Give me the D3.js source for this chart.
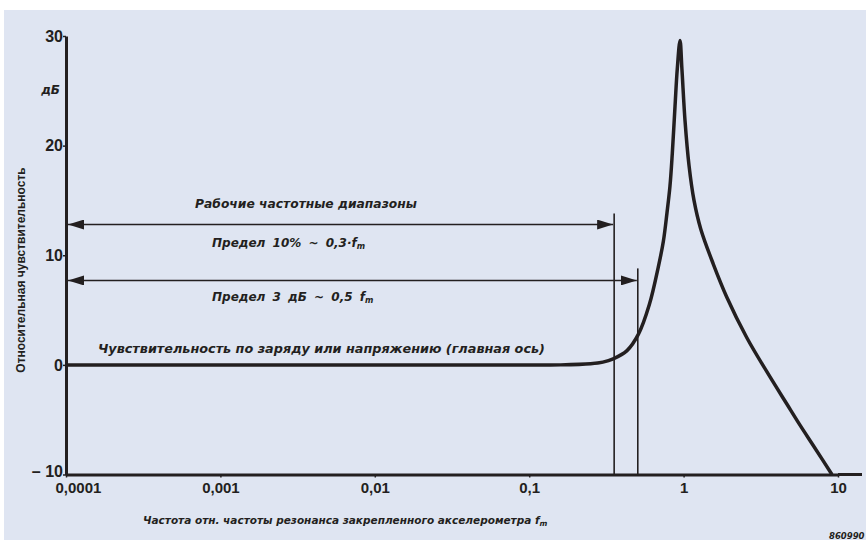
<!DOCTYPE html>
<html>
<head>
<meta charset="utf-8">
<script src="https://cdn.jsdelivr.net/npm/d3@7"></script>
<style>
  html, body { margin: 0; padding: 0; background: #ffffff; }
  text { fill: #231f20; }
  .tick-lbl { font-family: "Liberation Sans", Arial, sans-serif; font-weight: bold; }
  .ann { font-family: "DejaVu Sans", sans-serif; font-weight: bold; font-style: italic; }
  .ylab { font-family: "Liberation Sans", Arial, sans-serif; font-weight: bold; }
</style>
</head>
<body>
<svg id="chart" width="866" height="540"></svg>
<script>
// Относительная чувствительность акселерометра
// частота (отн. f_m) и чувствительность, дБ
const freq = [0.0001, 0.01, 0.1, 0.16, 0.25, 0.3, 0.35, 0.43, 0.51, 0.6, 0.685, 0.74, 0.781, 0.816, 0.845, 0.88, 0.91, 0.948,
              0.976, 1.021, 1.084, 1.168, 1.291, 1.557, 1.902, 2.563, 3.452, 4.653, 5.675, 7.1, 9.14];
const sens = [0, 0, 0, 0, 0.1, 0.25, 0.55, 1.3, 2.8, 5.5, 8.9, 11.3, 13.9, 16.3, 19.3, 23.6, 27.0, 29.6,
              26.9, 22.3, 18.2, 15.0, 12.4, 9.2, 6.2, 2.5, -0.6, -3.55, -5.5, -7.6, -10];

const xTicks = [0.0001, 0.001, 0.01, 0.1, 1, 10];
const xTickLabels = ["0,0001", "0,001", "0,01", "0,1", "1", "10"];
const yTicks = [-10, 0, 10, 20, 30];
const yTickLabels = ["– 10", "0", "10", "20", "30"];

// пределы рабочих диапазонов: частота, уровень стрелки, верх вертикали (дБ)
const limitFreq = [0.355, 0.505];
const limitArrow = [12.8, 7.7];
const limitTop = [13.8, 8.8];

const svg = d3.select("#chart");
const W = +svg.attr("width"), H = +svg.attr("height");

// фон
svg.append("rect").attr("x", 4).attr("y", 10).attr("width", W - 4).attr("height", H - 10)
   .attr("fill", "#dfe5f2");

const x = d3.scaleLog().domain([0.0001, 10]).range([66, 838]);
const y = d3.scaleLinear().domain([-10, 30]).range([474.5, 36]);

const ink = "#231f20";

// ось Y
const yAxis = svg.append("g")
  .attr("transform", `translate(${x(0.0001)},0)`)
  .call(d3.axisLeft(y).tickValues(yTicks).tickSize(3).tickSizeOuter(0)
          .tickFormat((d, i) => yTickLabels[i]));
yAxis.select(".domain").attr("stroke", ink).attr("stroke-width", 3);
yAxis.selectAll(".tick line").attr("stroke", ink).attr("stroke-width", 1.5);
yAxis.selectAll(".tick text").attr("class", "tick-lbl").attr("font-size", 16).attr("x", -3)
  .attr("dy", d => d === -10 ? "0.1em" : "0.32em");

// ось X
const xAxis = svg.append("g")
  .attr("transform", `translate(0,${y(-10)})`)
  .call(d3.axisBottom(x).tickValues(xTicks).tickSize(3).tickSizeOuter(0)
          .tickFormat((d, i) => xTickLabels[i]));
xAxis.select(".domain").attr("stroke", ink).attr("stroke-width", 3);
xAxis.selectAll(".tick line").attr("stroke", ink).attr("stroke-width", 1.5);
xAxis.selectAll(".tick text").attr("class", "tick-lbl").attr("font-size", 15).attr("y", 8);
xAxis.selectAll(".tick text").filter(d => d === 0.0001)
  .attr("text-anchor", "start").attr("x", -11);
// продолжение оси за 10
xAxis.append("line").attr("x1", x(10)).attr("x2", W - 4).attr("stroke", ink).attr("stroke-width", 3);

// подписи осей
svg.append("text").attr("class", "ylab").attr("font-size", 12)
  .attr("transform", `translate(${x(0.0001) - 45},270) rotate(-90)`)
  .attr("text-anchor", "middle").attr("dominant-baseline", "central")
  .text("Относительная чувствительность");

svg.append("text").attr("class", "ann").attr("font-size", 12)
  .attr("x", x(0.0001) - 6).attr("y", 90).attr("text-anchor", "end").attr("dominant-baseline", "central")
  .text("дБ");

const xt = svg.append("text").attr("class", "ann").attr("font-size", 10.5)
  .attr("x", 143).attr("y", 520).attr("dominant-baseline", "central");
xt.append("tspan").text("Частота отн. частоты резонанса закрепленного акселерометра f");
xt.append("tspan").attr("font-size", 7.5).attr("dy", 3).text("m");

svg.append("text").attr("class", "ann").attr("font-size", 8.5)
  .attr("x", 829).attr("y", 536).attr("dominant-baseline", "central").text("860990");

// стрелки рабочих диапазонов
const defs = svg.append("defs");
defs.append("marker").attr("id", "arr").attr("viewBox", "0 0 16 10")
  .attr("refX", 16).attr("refY", 5).attr("markerWidth", 16).attr("markerHeight", 10)
  .attr("markerUnits", "userSpaceOnUse").attr("orient", "auto-start-reverse")
  .append("path").attr("d", "M0,0 L16,5 L0,10 Z").attr("fill", ink);

svg.selectAll(".limit-v").data(limitFreq).enter().append("line")
  .attr("class", "limit-v")
  .attr("x1", d => x(d)).attr("x2", d => x(d))
  .attr("y1", (d, i) => y(limitTop[i])).attr("y2", y(-10))
  .attr("stroke", ink).attr("stroke-width", 1.6);

svg.selectAll(".limit-a").data(limitFreq).enter().append("line")
  .attr("class", "limit-a")
  .attr("x1", x(0.0001) + 2).attr("x2", d => x(d) - 1)
  .attr("y1", (d, i) => y(limitArrow[i])).attr("y2", (d, i) => y(limitArrow[i]))
  .attr("stroke", ink).attr("stroke-width", 1.6)
  .attr("marker-start", "url(#arr)").attr("marker-end", "url(#arr)");

// надписи
svg.append("text").attr("class", "ann").attr("font-size", 12.3)
  .attr("x", 195).attr("y", 204).attr("dominant-baseline", "central")
  .text("Рабочие частотные диапазоны");

const t1 = svg.append("text").attr("class", "ann").attr("font-size", 12).attr("word-spacing", 3)
  .attr("x", 212).attr("y", 243).attr("dominant-baseline", "central");
t1.append("tspan").text("Предел 10% ~ 0,3·f");
t1.append("tspan").attr("font-size", 8).attr("dy", 3).text("m");

const t2 = svg.append("text").attr("class", "ann").attr("font-size", 12).attr("word-spacing", 3)
  .attr("x", 212).attr("y", 297).attr("dominant-baseline", "central");
t2.append("tspan").text("Предел 3 дБ ~ 0,5 f");
t2.append("tspan").attr("font-size", 8).attr("dy", 3).text("m");

svg.append("text").attr("class", "ann").attr("font-size", 12.8)
  .attr("x", 98).attr("y", 348).attr("dominant-baseline", "central")
  .text("Чувствительность по заряду или напряжению (главная ось)");

// кривая чувствительности
const pts = freq.map((f, i) => [f, sens[i]]);
const line = d3.line().x(d => x(d[0])).y(d => y(d[1])).curve(d3.curveCatmullRom.alpha(0.5));
svg.append("path").datum(pts)
  .attr("d", line)
  .attr("fill", "none").attr("stroke", ink).attr("stroke-width", 3.5)
  .attr("stroke-linejoin", "round");
</script>
</body>
</html>
